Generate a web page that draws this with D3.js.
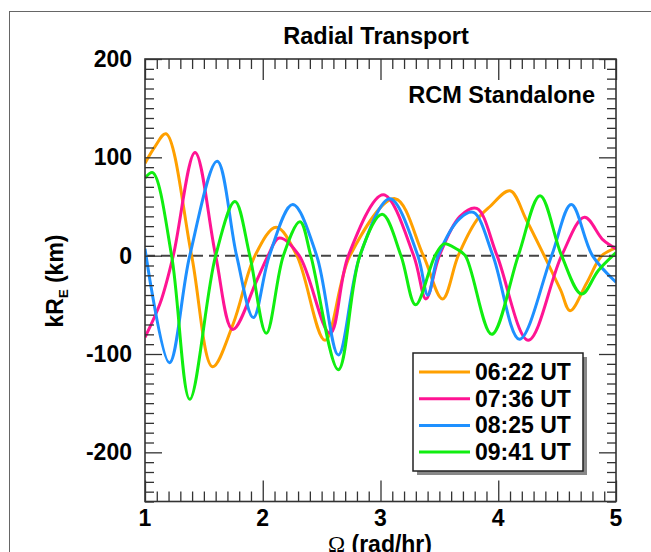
<!DOCTYPE html>
<html>
<head>
<meta charset="utf-8">
<script src="https://cdn.jsdelivr.net/npm/d3@7"></script>
<style>
  body { margin: 0; background: #fff; }
  text { font-family: "Liberation Sans", Arial, sans-serif; font-weight: bold; fill: #000; }
</style>
</head>
<body>
<svg></svg>
<script>
// values: [omega (rad/hr), kR_E (km)]
const labels = ['06:22 UT', '07:36 UT', '08:25 UT', '09:41 UT'];
const colors = ['#ffa000', '#ff1493', '#1e90ff', '#10ee10'];

const s0622 = [[1.0, 94], [1.085, 111], [1.178, 124], [1.396, 0], [1.574, -113], [1.75, -69],
  [1.934, 0], [2.114, 29], [2.29, 0], [2.529, -86], [2.741, 0], [3.123, 58], [3.364, 0],
  [3.527, -44], [3.66, 0], [3.816, 36], [3.93, 50], [4.1, 66], [4.24, 36], [4.39, 0],
  [4.53, -35], [4.61, -56], [4.75, -28], [4.88, 0], [5.0, 8]];
const s0736 = [[1.0, -83], [1.13, -48], [1.24, 0], [1.425, 105], [1.6, 0], [1.745, -75],
  [1.95, -25], [2.045, 0], [2.14, 18], [2.31, 0], [2.571, -79], [2.727, 0], [3.024, 62],
  [3.282, 0], [3.386, -44], [3.5, 0], [3.675, 40], [3.817, 48], [3.99, 0], [4.255, -86],
  [4.538, 0], [4.732, 39], [4.89, 16], [5.0, 7]];
const s0825 = [[1.0, 7], [1.207, -109], [1.38, 0], [1.613, 96], [1.778, 0], [1.92, -63],
  [2.056, 0], [2.254, 52], [2.458, 0], [2.642, -101], [2.825, 0], [3.08, 58], [3.317, 0],
  [3.402, -40], [3.49, 0], [3.675, 38], [3.79, 44], [3.955, 0], [4.18, -85], [4.453, 0],
  [4.62, 52], [4.8, 0], [5.0, -27]];
const s0941 = [[1.0, 79], [1.065, 84.5], [1.226, 0], [1.38, -146], [1.6, 0], [1.764, 55],
  [1.89, 0], [2.03, -79], [2.175, 0], [2.316, 34.5], [2.408, 0], [2.642, -116], [2.825, 0],
  [3.014, 42], [3.174, 0], [3.298, -50], [3.463, 0], [3.54, 12], [3.643, 7], [3.72, 0],
  [3.944, -80], [4.17, 0], [4.355, 61], [4.538, 0], [4.708, -39], [4.85, -15], [5.0, 3]];
const series = [s0622, s0736, s0825, s0941];

const xMajor = [1, 2, 3, 4, 5];
const yMajor = [-200, -100, 0, 100, 200];

const size = {w: 651, h: 552};
const plot = {l: 145, r: 616, t: 59, b: 501.5};

const svg = d3.select('svg')
    .attr('width', size.w)
    .attr('height', size.h);

svg.append('rect').attr('width', size.w).attr('height', size.h).attr('fill', '#fff');

// outer frame of the page
svg.append('rect')
    .attr('x', 9.5).attr('y', 11.5)
    .attr('width', 700).attr('height', 700)
    .attr('fill', 'none').attr('stroke', '#666').attr('stroke-width', 1);

const x = d3.scaleLinear().domain([1, 5]).range([plot.l, plot.r]);
const y = d3.scaleLinear().domain([-250, 200]).range([plot.b, plot.t]);

svg.append('clipPath').attr('id', 'clip')
    .append('rect')
    .attr('x', plot.l).attr('y', plot.t)
    .attr('width', plot.r - plot.l).attr('height', plot.b - plot.t);

// zero line
svg.append('line')
    .attr('x1', plot.l).attr('x2', plot.r)
    .attr('y1', y(0)).attr('y2', y(0))
    .attr('stroke', '#444').attr('stroke-width', 2)
    .attr('stroke-dasharray', '10,6');

// curves
const line = d3.line()
    .curve(d3.curveCatmullRom.alpha(0.5))
    .x(d => x(d[0]))
    .y(d => y(d[1]));

svg.append('g')
    .attr('clip-path', 'url(#clip)')
    .selectAll('path')
    .data(series)
    .join('path')
    .attr('fill', 'none')
    .attr('stroke', (d, i) => colors[i])
    .attr('stroke-width', 3)
    .attr('stroke-linejoin', 'round')
    .attr('d', line);

// axes: ticks on all four sides, pointing inward
const xMinor = d3.range(10, 51).map(v => v / 10).filter(v => !xMajor.includes(v));
const yMinor = d3.range(-25, 21).map(v => v * 10).filter(v => !yMajor.includes(v));

function tickAxis(axisFn, scale, major, minor, lenMajor, lenMinor, transform) {
    svg.append('g').attr('transform', transform)
        .call(axisFn(scale).tickValues(minor).tickSize(lenMinor).tickFormat(''))
        .call(g => g.select('.domain').remove())
        .call(g => g.selectAll('line').attr('stroke', '#333').attr('stroke-width', 1.3));
    svg.append('g').attr('transform', transform)
        .call(axisFn(scale).tickValues(major).tickSize(lenMajor).tickFormat(''))
        .call(g => g.select('.domain').remove())
        .call(g => g.selectAll('line').attr('stroke', '#333').attr('stroke-width', 1.3));
}

tickAxis(d3.axisTop, x, xMajor, xMinor, 21, 10, `translate(0,${plot.b})`);
tickAxis(d3.axisBottom, x, xMajor, xMinor, 21, 10, `translate(0,${plot.t})`);
tickAxis(d3.axisRight, y, yMajor, yMinor, 17, 9, `translate(${plot.l},0)`);
tickAxis(d3.axisLeft, y, yMajor, yMinor, 17, 9, `translate(${plot.r},0)`);

svg.append('rect')
    .attr('x', plot.l).attr('y', plot.t)
    .attr('width', plot.r - plot.l).attr('height', plot.b - plot.t)
    .attr('fill', 'none').attr('stroke', '#333').attr('stroke-width', 1.6);

// tick labels
svg.append('g').selectAll('text')
    .data(xMajor)
    .join('text')
    .attr('x', d => x(d))
    .attr('y', 526)
    .attr('text-anchor', 'middle')
    .attr('font-size', 23)
    .text(d => d);

svg.append('g').selectAll('text')
    .data(yMajor)
    .join('text')
    .attr('x', 132)
    .attr('y', d => y(d) + 8)
    .attr('text-anchor', 'end')
    .attr('font-size', 23)
    .text(d => d);

// titles
svg.append('text')
    .attr('x', 376).attr('y', 44)
    .attr('text-anchor', 'middle')
    .attr('font-size', 23.5)
    .text('Radial Transport');

svg.append('text')
    .attr('x', 595).attr('y', 103)
    .attr('text-anchor', 'end')
    .attr('font-size', 23.5)
    .text('RCM Standalone');

const xl = svg.append('text')
    .attr('x', 380).attr('y', 552)
    .attr('text-anchor', 'middle')
    .attr('font-size', 23);
xl.append('tspan').attr('font-family', '"Liberation Serif", serif').attr('font-weight', 'normal').text('Ω');
xl.append('tspan').text(' (rad/hr)');

const yl = svg.append('text')
    .attr('transform', 'translate(63,281) rotate(-90)')
    .attr('text-anchor', 'middle')
    .attr('font-size', 23);
yl.append('tspan').text('kR');
yl.append('tspan').attr('font-size', 13).attr('dy', 5).text('E');
yl.append('tspan').attr('dy', -5).text(' (km)');

// legend
const leg = {x: 413, y: 353, w: 170, h: 118};
svg.append('rect')
    .attr('x', leg.x + 4).attr('y', leg.y + 4)
    .attr('width', leg.w).attr('height', leg.h)
    .attr('fill', '#888');
svg.append('rect')
    .attr('x', leg.x).attr('y', leg.y)
    .attr('width', leg.w).attr('height', leg.h)
    .attr('fill', '#fff').attr('stroke', '#222').attr('stroke-width', 1.5);

const rows = svg.append('g').selectAll('g')
    .data(labels)
    .join('g')
    .attr('transform', (d, i) => `translate(0,${372 + i * 26.7})`);
rows.append('line')
    .attr('x1', 419).attr('x2', 470)
    .attr('stroke', (d, i) => colors[i])
    .attr('stroke-width', 3);
rows.append('text')
    .attr('x', 475).attr('y', 8)
    .attr('font-size', 23)
    .text(d => d);
</script>
</body>
</html>
